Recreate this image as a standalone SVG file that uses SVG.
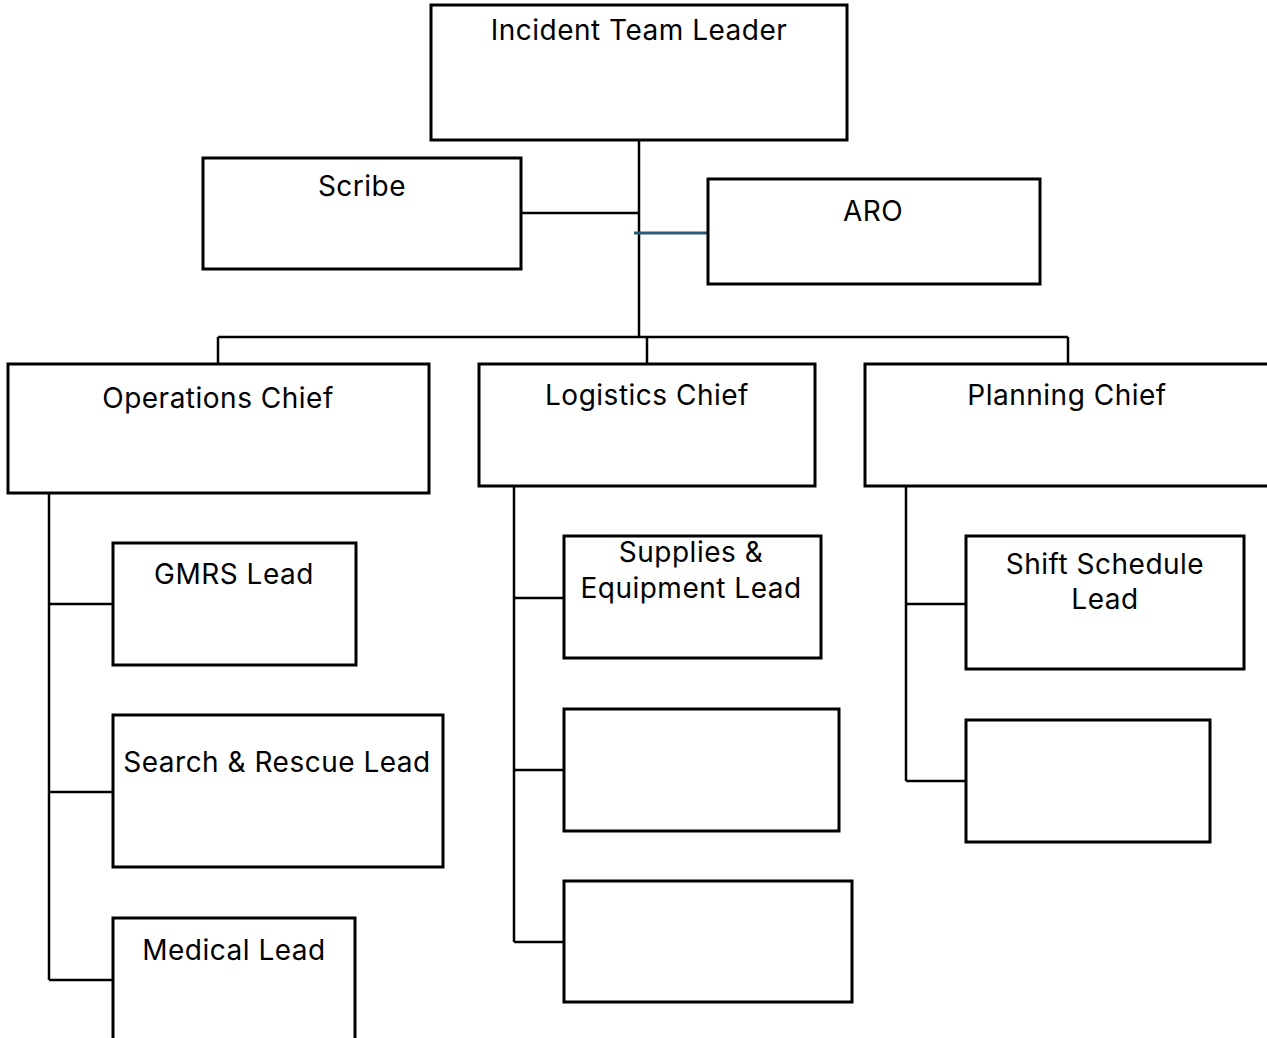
<svg xmlns="http://www.w3.org/2000/svg" width="1267" height="1038" viewBox="0 0 1267 1038">
<style>
.box{fill:#fff;stroke:#000;stroke-width:3}
.ln{fill:none;stroke:#000;stroke-width:2.5}
.blue{fill:none;stroke:#2b5a78;stroke-width:3}
text{font-family:Inter,"Open Sans",sans-serif;font-size:28px;letter-spacing:0.5px;fill:#000;text-anchor:middle}
</style>
<rect width="1267" height="1038" fill="#fff"/>
<g id="connectors">
<path class="ln" d="M639 140V337"/>
<path class="ln" d="M521 213H639"/>
<path class="blue" d="M634 233H708"/>
<path class="ln" d="M218 337H1068M218 337V364M647 337V364M1068 337V364"/>
<path class="ln" d="M49 493V980M49 604H113M49 792H113M49 980H113"/>
<path class="ln" d="M514 486V942M514 598H564M514 770H564M514 942H564"/>
<path class="ln" d="M906 486V781M906 604H966M906 781H966"/>
</g>
<g id="itl"><rect class="box" x="431" y="5" width="416" height="135"/><text x="639" y="40">Incident Team Leader</text></g>
<g id="scribe"><rect class="box" x="203" y="158" width="318" height="111"/><text x="362" y="196">Scribe</text></g>
<g id="aro"><rect class="box" x="708" y="179" width="332" height="105"/><text x="873" y="221">ARO</text></g>
<g id="ops"><rect class="box" x="8" y="364" width="421" height="129"/><text x="218" y="408">Operations Chief</text></g>
<g id="log"><rect class="box" x="479" y="364" width="336" height="122"/><text x="647" y="405">Logistics Chief</text></g>
<g id="plan"><rect class="box" x="865" y="364" width="410" height="122"/><text x="1067" y="405">Planning Chief</text></g>
<g id="gmrs"><rect class="box" x="113" y="543" width="243" height="122"/><text x="234" y="584">GMRS Lead</text></g>
<g id="sar"><rect class="box" x="113" y="715" width="330" height="152"/><text x="277" y="772">Search &amp; Rescue Lead</text></g>
<g id="med"><rect class="box" x="113" y="918" width="242" height="130"/><text x="234" y="960">Medical Lead</text></g>
<g id="supplies"><rect class="box" x="564" y="536" width="257" height="122"/><text x="691" y="562">Supplies &amp;</text><text x="691" y="598">Equipment Lead</text></g>
<g id="log2"><rect class="box" x="564" y="709" width="275" height="122"/></g>
<g id="log3"><rect class="box" x="564" y="881" width="288" height="121"/></g>
<g id="shift"><rect class="box" x="966" y="536" width="278" height="133"/><text x="1105" y="574">Shift Schedule</text><text x="1105" y="609">Lead</text></g>
<g id="plan2"><rect class="box" x="966" y="720" width="244" height="122"/></g>
</svg>
